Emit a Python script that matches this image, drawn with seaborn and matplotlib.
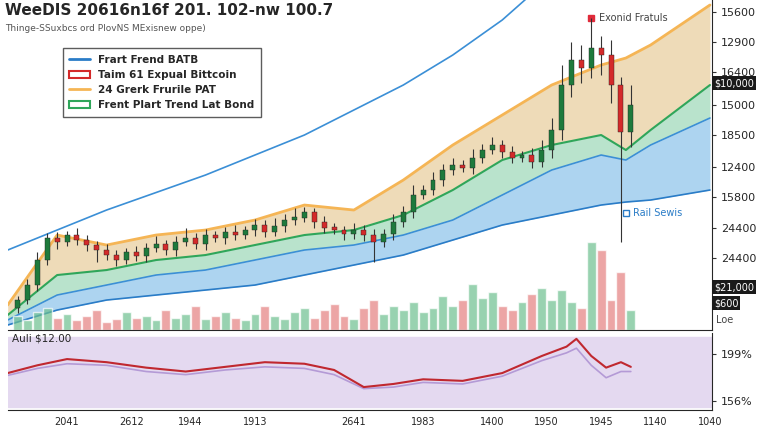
import numpy as np
import pandas as pd
import matplotlib
matplotlib.use("Agg")
import matplotlib.pyplot as plt
import seaborn as sns
from matplotlib.lines import Line2D
from matplotlib.patches import Patch

# candle data (x position, close), opens are previous close
candle_x = list(range(10, 640, 10))
closes = [30, 45, 70, 92, 88, 95, 90, 85, 80, 75, 70, 78, 74, 82, 86, 80, 88, 92, 86, 95,
          92, 98, 95, 100, 105, 98, 104, 110, 112, 118, 108, 102, 100, 96, 100, 95, 88, 96,
          108, 118, 135, 140, 150, 160, 165, 162, 172, 180, 185, 178, 172, 175, 168, 180,
          200, 245, 270, 262, 282, 275, 245, 198, 225]
wick_up = [4, 6, 8, 5, 6, 4, 7, 5, 4, 6, 5, 4, 6, 5, 8, 4, 6, 10, 5, 6,
           4, 5, 7, 4, 6, 5, 8, 6, 10, 5, 4, 6, 5, 4, 7, 5, 6, 5,
           8, 6, 10, 5, 8, 6, 7, 5, 9, 6, 8, 5, 6, 4, 7, 10,
           12, 20, 18, 15, 30, 12, 15, 8, 20]
wick_dn = [5, 4, 6, 5, 7, 4, 5, 6, 12, 5, 6, 4, 5, 6, 4, 5, 6, 4, 5, 6,
           4, 6, 5, 4, 6, 5, 4, 6, 5, 4, 6, 5, 4, 6, 5, 6, 20, 5,
           6, 5, 6, 4, 5, 6, 5, 4, 6, 5, 4, 6, 5, 4, 6, 5,
           8, 10, 12, 15, 10, 20, 18, 110, 15]
volumes = [14, 10, 18, 22, 12, 16, 10, 14, 20, 8, 11, 18, 12, 14, 10, 20, 12, 16, 24, 11,
           14, 18, 12, 10, 16, 24, 14, 11, 18, 22, 12, 20, 26, 14, 11, 22, 30, 16,
           24, 20, 28, 18, 22, 34, 24, 30, 46, 32, 38, 24, 20, 28, 36, 42,
           30, 40, 28, 22, 88, 80, 30, 58, 20]

# band curves
band_x = [0, 50, 100, 150, 200, 250, 300, 350, 400, 450, 500, 550, 600, 625, 650, 710]
orange_top = [25, 95, 85, 95, 100, 110, 125, 120, 150, 185, 215, 245, 265, 272, 285, 325]
green_top = [15, 55, 60, 70, 75, 85, 95, 100, 115, 140, 170, 185, 195, 180, 200, 245]
blue_top = [10, 35, 45, 55, 60, 70, 80, 85, 95, 110, 135, 160, 175, 170, 185, 212]
blue_low = [5, 20, 30, 35, 40, 45, 55, 65, 75, 90, 105, 115, 125, 128, 130, 140]
trend_x = [0, 100, 200, 300, 400, 450, 500, 540]
trend_y = [80, 120, 155, 195, 245, 275, 310, 345]

rsi_x = [0, 30, 60, 100, 140, 180, 220, 260, 300, 330, 360, 390, 420, 460, 500, 540, 565, 575, 590, 605, 620, 630]
rsi_red = [48, 58, 66, 62, 55, 50, 56, 62, 60, 52, 30, 34, 40, 38, 48, 70, 82, 92, 70, 55, 62, 56]
rsi_soft = [45, 54, 60, 58, 50, 46, 52, 56, 54, 46, 28, 30, 36, 34, 44, 64, 74, 80, 58, 42, 50, 50]

price_ticks = [318, 288, 258, 225, 195, 163, 133, 102, 72]
price_labels = ["15600", "12900", "16400", "15000", "18500", "12400", "15800", "24400", "24400"]
date_ticks = [60, 125, 185, 250, 350, 420, 490, 545, 600, 655, 710]
date_labels = ["2041", "2612", "1944", "1913", "2641", "1983", "1400", "1950", "1945", "1140", "1040"]

sns.set_style("white")
fig = plt.figure(figsize=(7.68, 4.32), dpi=100)
ax = fig.add_axes([0.01, 0.236, 0.917, 0.764])
ax2 = fig.add_axes([0.01, 0.05, 0.917, 0.18])

ax.fill_between(band_x, green_top, orange_top, color="#e9cfa0", alpha=0.75, lw=0)
ax.fill_between(band_x, blue_top, green_top, color="#a8dcc0", alpha=0.8, lw=0)
ax.fill_between(band_x, blue_low, blue_top, color="#9fcdee", alpha=0.85, lw=0)
ax.plot(band_x, orange_top, color="#f5b555", lw=2)
ax.plot(band_x, green_top, color="#2fa65a", lw=1.5)
ax.plot(band_x, blue_top, color="#3b8fd6", lw=1.2)
ax.plot(band_x, blue_low, color="#2a7cc7", lw=1.2)
sns.lineplot(x=trend_x, y=trend_y, ax=ax, color="#3b8fd6", lw=1.2)

opens = [closes[0] - 8] + closes[:-1]
df = pd.DataFrame({"x": candle_x, "o": opens, "c": closes, "v": volumes})
df["hi"] = np.maximum(df.o, df.c) + wick_up
df["lo"] = np.minimum(df.o, df.c) - wick_dn
df["col"] = np.where(df.c >= df.o, "#1e7a3c", "#d42a2a")
vcol = np.where(df.c >= df.o, "#6cbf8f", "#e57f7f")
ax.bar(df.x, df.v, width=9, color=vcol, alpha=0.7, zorder=2)
ax.vlines(df.x, df.lo, df.hi, color="#333333", lw=0.8, zorder=3)
ax.bar(df.x, (df.c - df.o).abs().clip(lower=3), bottom=np.minimum(df.o, df.c),
       width=5, color=df.col, edgecolor="#222222", lw=0.3, zorder=4)

ax.set_xlim(0, 712)
ax.set_ylim(0, 330)
ax.yaxis.tick_right()
ax.set_yticks(price_ticks, price_labels, fontsize=8)
ax.set_xticks([])
for s in ["top", "left"]:
    ax.spines[s].set_visible(False)
ax.tick_params(axis="y", length=3, color="#333")

ax.text(598, 312, "Exonid Fratuls", fontsize=7, color="#444", va="center")
ax.plot([590], [312], "s", color="#e02b3a", ms=5)
ax.text(632, 117, "Rail Sewis", fontsize=7, color="#2a7cc7", va="center")
ax.plot([625], [117], "s", mfc="none", mec="#2a7cc7", ms=4)
for yy, t in [(247, "$10,000"), (43, "$21,000"), (27, "$600")]:
    ax.text(714, yy, t, fontsize=7, color="white", va="center",
            bbox=dict(boxstyle="square,pad=0.2", fc="#1a1a1a", ec="none"))
ax.text(716, 10, "Loe", fontsize=7, color="#444", va="center")

fig.text(0.006, 0.975, "WeeDIS 20616n16f 201. 102-nw 100.7", fontsize=11, weight="bold", va="center")
fig.text(0.006, 0.935, "Thinge-SSuxbcs ord PlovNS MExisnew oppe)", fontsize=6.5, color="#555", va="center")

handles = [Line2D([], [], color="#2a7cc7", lw=2),
           Patch(fc="white", ec="#d42a2a", lw=1.5),
           Line2D([], [], color="#f5b555", lw=2),
           Patch(fc="white", ec="#2fa65a", lw=1.5)]
labels = ["Frart Frend BATB", "Taim 61 Expual Bittcoin", "24 Grerk Frurile PAT", "Frent Plart Trend Lat Bond"]
leg = fig.legend(handles, labels, loc="upper left", bbox_to_anchor=(0.075, 0.9),
                 fontsize=7.5, frameon=True, fancybox=False, edgecolor="#333", borderpad=0.6)
for t in leg.get_texts():
    t.set_fontweight("bold")

ax2.axhspan(5, 95, color="#e4d9f0", zorder=0)
ax2.plot(rsi_x, rsi_soft, color="#b49ad6", lw=1.2)
ax2.plot(rsi_x, rsi_red, color="#c0282f", lw=1.5)
ax2.set_xlim(0, 712)
ax2.set_ylim(0, 100)
ax2.yaxis.tick_right()
ax2.set_yticks([72, 12], ["199%", "156%"], fontsize=8)
ax2.set_xticks(date_ticks, date_labels, fontsize=7)
ax2.tick_params(axis="x", pad=2)
ax2.spines["top"].set_visible(False)
ax2.spines["left"].set_visible(False)
ax2.tick_params(length=3, color="#333")
ax2.text(4, 92, "Auli $12.00", fontsize=7.5, va="center")

fig.savefig("out.png", dpi=100)
